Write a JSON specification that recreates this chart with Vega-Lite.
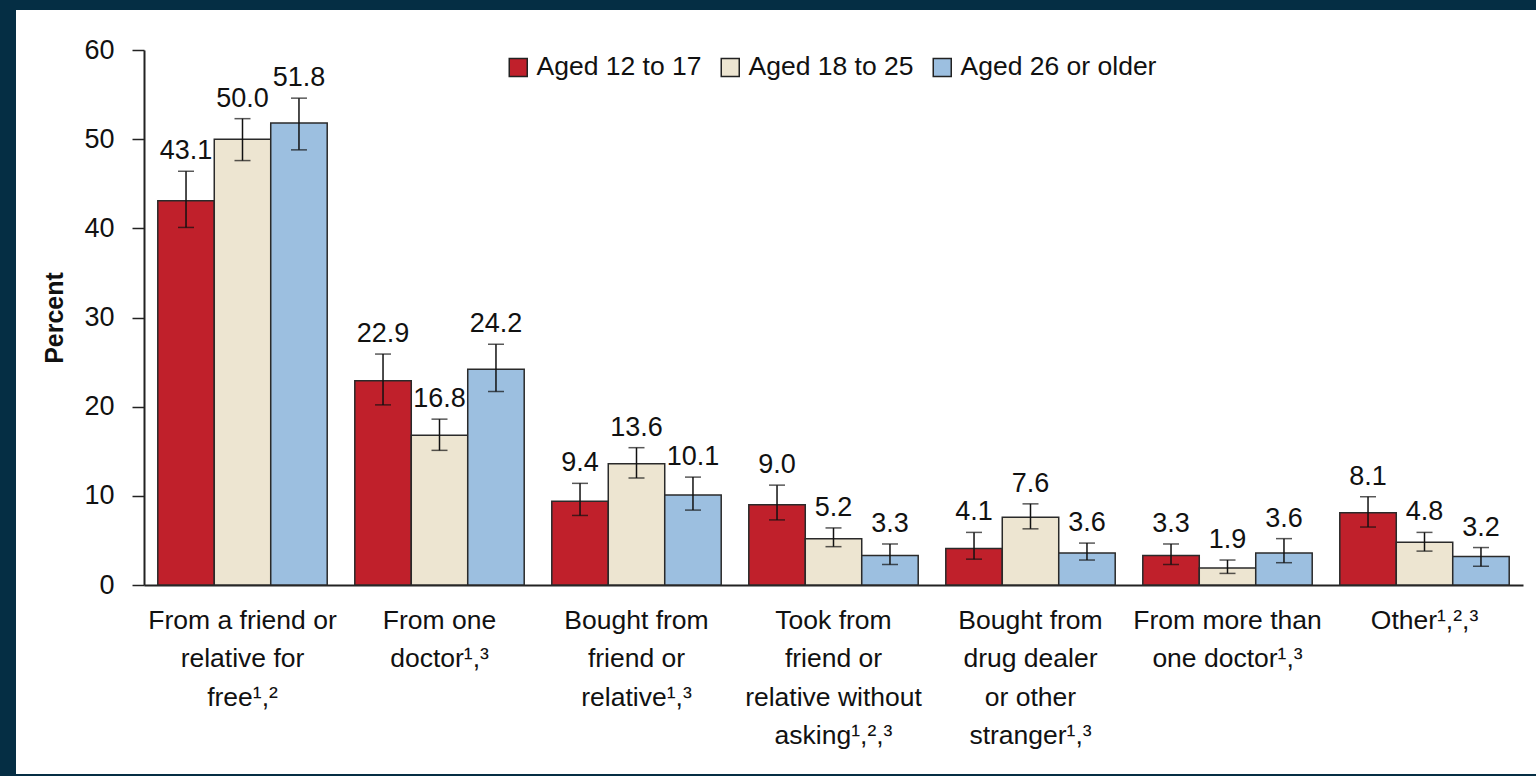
{
  "$schema": "https://vega.github.io/schema/vega-lite/v6.json",
  "width": 1520,
  "height": 764,
  "autosize": {"type": "none"},
  "padding": {"left": 16, "top": 10, "right": 0, "bottom": 2},
  "background": "#052e44",
  "view": {"fill": "white", "stroke": null},
  "config": {"font": "Liberation Sans"},
  "data": {
    "values": [
      {"source": "From a friend or|relative for|free¹,²", "age": "Aged 12 to 17", "pct": 43.1, "lo": 40.1, "hi": 46.4},
      {"source": "From a friend or|relative for|free¹,²", "age": "Aged 18 to 25", "pct": 50.0, "lo": 47.6, "hi": 52.3},
      {"source": "From a friend or|relative for|free¹,²", "age": "Aged 26 or older", "pct": 51.8, "lo": 48.8, "hi": 54.6},
      {"source": "From one|doctor¹,³", "age": "Aged 12 to 17", "pct": 22.9, "lo": 20.2, "hi": 25.9},
      {"source": "From one|doctor¹,³", "age": "Aged 18 to 25", "pct": 16.8, "lo": 15.1, "hi": 18.6},
      {"source": "From one|doctor¹,³", "age": "Aged 26 or older", "pct": 24.2, "lo": 21.7, "hi": 27.0},
      {"source": "Bought from|friend or|relative¹,³", "age": "Aged 12 to 17", "pct": 9.4, "lo": 7.8, "hi": 11.4},
      {"source": "Bought from|friend or|relative¹,³", "age": "Aged 18 to 25", "pct": 13.6, "lo": 12.0, "hi": 15.4},
      {"source": "Bought from|friend or|relative¹,³", "age": "Aged 26 or older", "pct": 10.1, "lo": 8.4, "hi": 12.1},
      {"source": "Took from|friend or|relative without|asking¹,²,³", "age": "Aged 12 to 17", "pct": 9.0, "lo": 7.3, "hi": 11.2},
      {"source": "Took from|friend or|relative without|asking¹,²,³", "age": "Aged 18 to 25", "pct": 5.2, "lo": 4.3, "hi": 6.4},
      {"source": "Took from|friend or|relative without|asking¹,²,³", "age": "Aged 26 or older", "pct": 3.3, "lo": 2.3, "hi": 4.6},
      {"source": "Bought from|drug dealer|or other|stranger¹,³", "age": "Aged 12 to 17", "pct": 4.1, "lo": 2.9, "hi": 5.9},
      {"source": "Bought from|drug dealer|or other|stranger¹,³", "age": "Aged 18 to 25", "pct": 7.6, "lo": 6.3, "hi": 9.1},
      {"source": "Bought from|drug dealer|or other|stranger¹,³", "age": "Aged 26 or older", "pct": 3.6, "lo": 2.8, "hi": 4.7},
      {"source": "From more than|one doctor¹,³", "age": "Aged 12 to 17", "pct": 3.3, "lo": 2.3, "hi": 4.6},
      {"source": "From more than|one doctor¹,³", "age": "Aged 18 to 25", "pct": 1.9, "lo": 1.3, "hi": 2.8},
      {"source": "From more than|one doctor¹,³", "age": "Aged 26 or older", "pct": 3.6, "lo": 2.5, "hi": 5.2},
      {"source": "Other¹,²,³", "age": "Aged 12 to 17", "pct": 8.1, "lo": 6.5, "hi": 9.9},
      {"source": "Other¹,²,³", "age": "Aged 18 to 25", "pct": 4.8, "lo": 3.8, "hi": 5.9},
      {"source": "Other¹,²,³", "age": "Aged 26 or older", "pct": 3.2, "lo": 2.1, "hi": 4.2}
    ]
  },
  "encoding": {
    "x": {
      "field": "source", "type": "nominal", "sort": null,
      "scale": {"range": [128, 1507], "paddingInner": 0.14, "paddingOuter": 0.07},
      "axis": {
        "title": null, "orient": "bottom", "offset": -189, "ticks": false, "labelAngle": 0,
        "labelExpr": "split(datum.label, '|')", "labelFontSize": 26.5, "labelColor": "#111",
        "labelLineHeight": 38.5, "labelBaseline": "top", "labelPadding": 22,
        "domainColor": "#222", "domainWidth": 2, "labelLimit": 400
      }
    },
    "xOffset": {"field": "age", "type": "nominal", "sort": null, "scale": {"paddingInner": 0, "paddingOuter": 0}}
  },
  "layer": [
    {
      "mark": {"type": "bar", "stroke": "#2a2a2a", "strokeWidth": 1.5},
      "encoding": {
        "y": {
          "field": "pct", "type": "quantitative",
          "scale": {"domain": [0, 60], "range": [575, 40], "nice": false},
          "axis": {
            "title": "Percent", "orient": "left", "offset": -128, "grid": false,
            "values": [0, 10, 20, 30, 40, 50, 60], "tickSize": 12, "tickWidth": 1.5, "tickColor": "#222",
            "domainColor": "#222", "domainWidth": 2, "labelFontSize": 27, "labelPadding": 18,
            "labelColor": "#111", "titleFontSize": 25, "titleFontWeight": "bold", "titleColor": "#111",
            "titlePadding": 16
          }
        },
        "color": {
          "field": "age", "type": "nominal",
          "scale": {"domain": ["Aged 12 to 17", "Aged 18 to 25", "Aged 26 or older"], "range": ["#c0202b", "#ede5d1", "#9cbfe0"]},
          "legend": {
            "title": null, "orient": "none", "legendX": 489, "legendY": 44, "direction": "horizontal",
            "symbolType": "square", "symbolSize": 324, "symbolStrokeColor": "#222", "symbolStrokeWidth": 1.5,
            "labelFontSize": 26.5, "labelOffset": 5, "columnPadding": 15, "labelColor": "#111", "labelLimit": 400
          }
        }
      }
    },
    {
      "mark": {"type": "rule", "color": "#111", "strokeWidth": 1.5},
      "encoding": {"y": {"field": "lo", "type": "quantitative"}, "y2": {"field": "hi"}}
    },
    {
      "mark": {"type": "tick", "color": "#111", "thickness": 1.5, "size": 16},
      "encoding": {"y": {"field": "lo", "type": "quantitative"}}
    },
    {
      "mark": {"type": "tick", "color": "#111", "thickness": 1.5, "size": 16},
      "encoding": {"y": {"field": "hi", "type": "quantitative"}}
    },
    {
      "mark": {"type": "text", "dy": -12, "baseline": "alphabetic", "fontSize": 27, "color": "#111"},
      "encoding": {
        "y": {"field": "hi", "type": "quantitative"},
        "text": {"field": "pct", "type": "quantitative", "format": ".1f"}
      }
    }
  ]
}
